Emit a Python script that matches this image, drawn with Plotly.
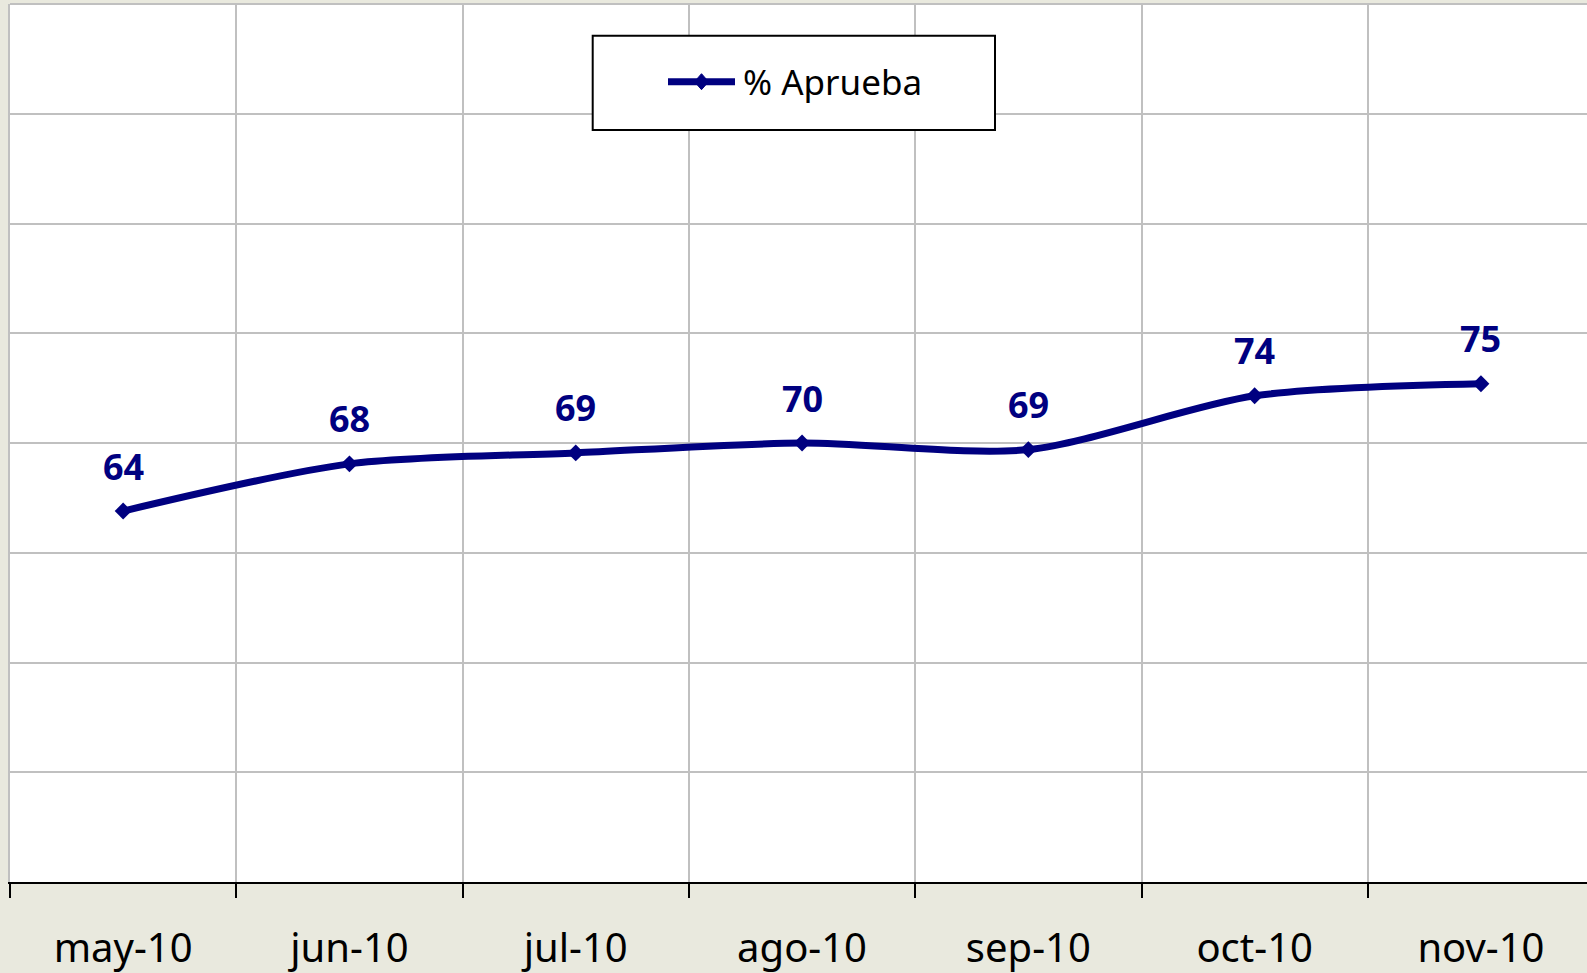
import plotly.graph_objects as go

# ---- data ----
months = ["may-10", "jun-10", "jul-10", "ago-10", "sep-10", "oct-10", "nov-10"]
aprueba = [63.8, 68.1, 69.1, 70.0, 69.4, 74.3, 75.4]
series_name = "% Aprueba"
y_range = [30, 110]

NAVY = "#000080"
GRID = "#C0C0C0"
BG = "#E9E9DE"
FONT = "Noto Sans"

W, H = 1587, 973
ML, MR, MT, MB = 10, 0, 4, 91
plot_w = W - ML - MR
plot_h = H - MT - MB


def px_x(px):
    return (px - ML) / plot_w


def px_y(py):
    return (H - MB - py) / plot_h


fig = go.Figure()
fig.add_trace(go.Scatter(
    x=months, y=aprueba, name=series_name,
    mode="lines+markers",
    line=dict(color=NAVY, width=7, shape="spline", smoothing=0.8),
    marker=dict(symbol="diamond", size=13, color=NAVY),
    showlegend=False, cliponaxis=False,
))

for m, v in zip(months, aprueba):
    fig.add_annotation(
        x=m, y=v, text=f"<b>{v:.0f}</b>", showarrow=False, yshift=45,
        font=dict(family=FONT, size=36, color=NAVY),
    )

# ---- custom legend box ----
lx0, lx1, ly0, ly1 = 592.7, 995, 35.7, 130
ly = 81.7
fig.add_shape(type="rect", xref="paper", yref="paper",
              x0=px_x(lx0), x1=px_x(lx1), y0=px_y(ly1), y1=px_y(ly0),
              line=dict(color="black", width=2), fillcolor="white", layer="above")
fig.add_shape(type="line", xref="paper", yref="paper",
              x0=px_x(668), x1=px_x(735), y0=px_y(ly), y1=px_y(ly),
              line=dict(color=NAVY, width=7), layer="above")
fig.add_shape(type="path", xref="paper", yref="paper",
              xsizemode="pixel", ysizemode="pixel",
              xanchor=px_x(701.5), yanchor=px_y(ly),
              path="M -7 0 L 0 8 L 7 0 L 0 -8 Z",
              fillcolor=NAVY, line=dict(color=NAVY, width=1), layer="above")
fig.add_annotation(xref="paper", yref="paper", x=px_x(741), y=px_y(ly),
                   xanchor="left", yanchor="middle", showarrow=False,
                   text=series_name, font=dict(family=FONT, size=35, color="black"))

# top border of plot area
fig.add_shape(type="line", xref="paper", yref="paper", x0=0, x1=1, y0=1, y1=1,
              line=dict(color=GRID, width=2), layer="below")

fig.update_layout(
    width=W, height=H,
    margin=dict(l=ML, r=MR, t=MT, b=MB, pad=0),
    paper_bgcolor=BG, plot_bgcolor="white",
    showlegend=False,
    font=dict(family=FONT, color="black"),
    xaxis=dict(
        type="category", range=[-0.5, -0.5 + plot_w / 226.3],
        tickson="boundaries", ticks="outside", ticklen=14, tickwidth=2, tickcolor="black",
        ticklabelstandoff=30,
        showgrid=True, gridcolor=GRID, gridwidth=2,
        showline=True, linecolor="black", linewidth=2,
        tickfont=dict(family=FONT, size=40, color="black"),
        zeroline=False, fixedrange=True,
    ),
    yaxis=dict(
        range=y_range, dtick=10, showticklabels=False, ticks="",
        showgrid=True, gridcolor=GRID, gridwidth=2,
        showline=True, linecolor=GRID, linewidth=2,
        zeroline=False, fixedrange=True,
    ),
)

fig.write_html(
    "out.html",
    config={"displayModeBar": False},
    post_script="document.body.style.margin='0';document.body.style.overflow='hidden';",
)
